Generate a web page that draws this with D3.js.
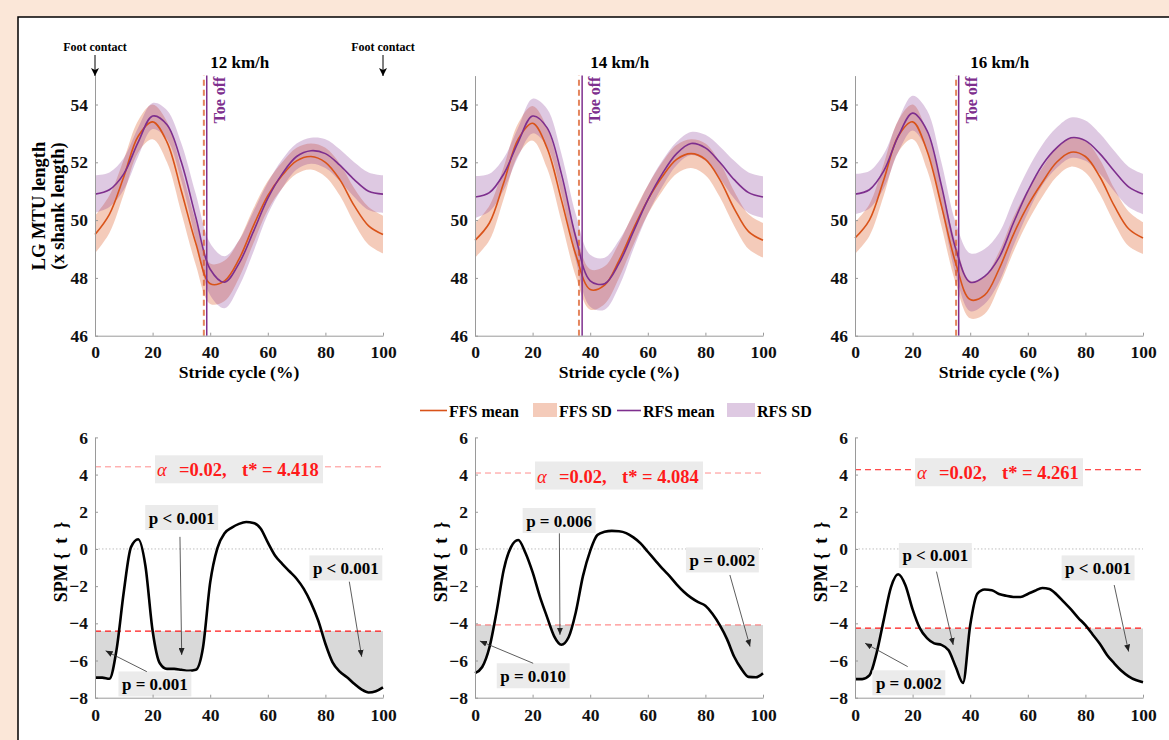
<!DOCTYPE html>
<html>
<head>
<meta charset="utf-8">
<script src="https://cdn.jsdelivr.net/npm/d3@7"></script>
<style>
body { margin: 0; background: #fbe7d8; }
svg { display: block; }
text { font-family: "Liberation Serif", "Times New Roman", serif; font-weight: bold; }
</style>
</head>
<body>
<script>
//stride cycle grids (%)
var xTop = d3.range(0, 101, 5);
var xSpm = d3.range(0, 100.1, 2.5);
var speeds = ["12 km/h", "14 km/h", "16 km/h"];

//LG MTU length (x shank length), mean and SD per speed
var ffsMean12 = [49.5, 50.2, 51.5, 52.9, 53.4, 52.7, 51.0, 49.2, 47.8, 47.9, 48.65, 49.8, 50.85, 51.55, 52.05, 52.2, 52.0, 51.4, 50.5, 49.8, 49.5];
var rfsMean12 = [50.9, 51.05, 51.6, 52.7, 53.6, 53.3, 52.0, 50.1, 48.3, 47.85, 48.5, 49.6, 50.75, 51.6, 52.2, 52.4, 52.3, 51.9, 51.4, 51.0, 50.9];
var ffsSd12 = [0.65, 0.65, 0.6, 0.55, 0.6, 0.7, 0.75, 0.75, 0.7, 0.7, 0.65, 0.6, 0.5, 0.45, 0.45, 0.45, 0.5, 0.55, 0.6, 0.65, 0.65];
var rfsSd12 = [0.65, 0.6, 0.55, 0.5, 0.45, 0.5, 0.65, 0.8, 0.9, 0.9, 0.8, 0.7, 0.55, 0.5, 0.45, 0.45, 0.5, 0.55, 0.6, 0.65, 0.65];

var ffsMean14 = [49.3, 49.9, 51.3, 52.8, 53.35, 52.5, 50.7, 48.8, 47.6, 47.75, 48.6, 49.7, 50.7, 51.5, 52.1, 52.3, 52.1, 51.4, 50.4, 49.6, 49.3];
var rfsMean14 = [50.8, 50.95, 51.6, 52.7, 53.6, 53.2, 51.6, 49.4, 47.9, 47.8, 48.5, 49.6, 50.7, 51.6, 52.3, 52.65, 52.5, 52.0, 51.4, 50.95, 50.8];
var ffsSd14 = [0.6, 0.6, 0.55, 0.55, 0.6, 0.7, 0.75, 0.75, 0.7, 0.65, 0.6, 0.55, 0.5, 0.5, 0.5, 0.5, 0.55, 0.6, 0.6, 0.6, 0.6];
var rfsSd14 = [0.72, 0.65, 0.55, 0.5, 0.6, 0.65, 0.7, 0.8, 0.9, 0.9, 0.8, 0.6, 0.5, 0.45, 0.4, 0.4, 0.45, 0.55, 0.65, 0.7, 0.72];

var ffsMean16 = [49.38, 50.0, 51.4, 52.9, 53.4, 52.4, 50.5, 48.5, 47.25, 47.4, 48.3, 49.5, 50.5, 51.3, 52.0, 52.35, 52.2, 51.5, 50.5, 49.7, 49.38];
var rfsMean16 = [50.9, 51.05, 51.7, 52.9, 53.7, 53.1, 51.2, 49.0, 47.85, 48.05, 48.7, 49.9, 51.0, 51.9, 52.5, 52.85, 52.75, 52.3, 51.7, 51.15, 50.9];
var ffsSd16 = [0.55, 0.55, 0.55, 0.55, 0.6, 0.65, 0.7, 0.7, 0.65, 0.65, 0.6, 0.6, 0.55, 0.5, 0.5, 0.5, 0.55, 0.6, 0.6, 0.6, 0.55];
var rfsSd16 = [0.7, 0.65, 0.6, 0.55, 0.6, 0.7, 0.8, 0.9, 1.0, 0.95, 0.85, 0.8, 0.75, 0.7, 0.7, 0.7, 0.7, 0.7, 0.7, 0.7, 0.7];

//toe off (% stride)
var toeOffFFS = [37.8, 36.1, 35.1];
var toeOffRFS = [38.8, 37.2, 36.0];

//SPM {t} curves and critical thresholds
var spm12 = [-6.92, -6.92, -6.98, -5.4, -2.3, 0.1, 0.52, -0.9, -4.4, -6.15, -6.45, -6.45, -6.5, -6.55, -6.5, -5.3, -1.8, 0.05, 0.85, 1.15, 1.35, 1.45, 1.4, 1.1, 0.35, -0.35, -0.8, -1.2, -1.6, -2.15, -2.9, -3.85, -5.1, -6.1, -6.6, -6.9, -7.25, -7.55, -7.72, -7.65, -7.44];
var spm14 = [-6.68, -6.35, -5.3, -3.37, -1.1, 0.1, 0.48, -0.2, -1.25, -2.55, -3.65, -4.7, -5.15, -4.75, -3.4, -1.45, -0.1, 0.75, 0.92, 0.97, 0.95, 0.85, 0.62, 0.3, -0.15, -0.6, -1.05, -1.45, -1.9, -2.3, -2.62, -2.86, -3.05, -3.5, -4.1, -4.85, -5.8, -6.45, -6.88, -6.9, -6.68];
var spm16 = [-7.0, -7.0, -6.8, -5.6, -3.8, -2.05, -1.36, -1.95, -3.25, -4.26, -4.8, -5.08, -5.16, -5.45, -6.35, -7.2, -4.1, -2.4, -2.18, -2.22, -2.42, -2.52, -2.58, -2.58, -2.42, -2.25, -2.1, -2.15, -2.45, -2.85, -3.25, -3.7, -4.1, -4.6, -5.1, -5.7, -6.15, -6.55, -6.85, -7.05, -7.17];
var tStar = [4.418, 4.084, 4.261];
var alphaLevel = "0.02";

//cluster p values
var pText12 = ["p < 0.001", "p < 0.001", "p = 0.001"];
var pText14 = ["p = 0.006", "p = 0.002", "p = 0.010"];
var pText16 = ["p < 0.001", "p < 0.001", "p = 0.002"];

//label placement in data units: [labelX, labelT, fromX, fromT, toX, toT]
var pPlace12 = [[30.1, 1.69, 29.5, 0.65, 30.1, -5.7], [87.1, -1.02, 88.3, -1.76, 92.6, -5.8], [20.8, -7.26, 18, -6.6, 3.7, -5.48]];
var pPlace14 = [[29.2, 1.53, 29.3, 0.84, 29.5, -4.62], [85.9, -0.59, 88.5, -1.4, 95.5, -5.25], [20.2, -6.82, 20.2, -6.15, 1.7, -4.95]];
var pPlace16 = [[27.9, -0.35, 28.3, -1.22, 34.1, -5.16], [84.4, -1.02, 90, -1.94, 95, -5.52], [18.7, -7.2, 18.3, -6.33, 3.5, -5.07]];

var topData = [
    {ffs: ffsMean12, rfs: rfsMean12, ffsSd: ffsSd12, rfsSd: rfsSd12},
    {ffs: ffsMean14, rfs: rfsMean14, ffsSd: ffsSd14, rfsSd: rfsSd14},
    {ffs: ffsMean16, rfs: rfsMean16, ffsSd: ffsSd16, rfsSd: rfsSd16}
];
var spmData = [spm12, spm14, spm16];
var pTexts = [pText12, pText14, pText16];
var pPlaces = [pPlace12, pPlace14, pPlace16];

var ffsColor = "#D95319",
    rfsColor = "#7E2F8E",
    axisColor = "#9a9a9a";

var width = 1169, height = 740;
var svg = d3.select("body").append("svg")
    .attr("width", width)
    .attr("height", height);

//white sheet with black edge
svg.append("rect")
    .attr("x", 18).attr("y", 17)
    .attr("width", width).attr("height", height)
    .attr("fill", "#fff")
    .attr("stroke", "#000")
    .attr("stroke-width", 1.5);

var defs = svg.append("defs");
defs.append("marker")
    .attr("id", "arrowThin")
    .attr("markerUnits", "userSpaceOnUse")
    .attr("markerWidth", 8).attr("markerHeight", 6)
    .attr("refX", 7).attr("refY", 3)
    .attr("orient", "auto")
    .append("path").attr("d", "M0,0L7,3L0,6Z").attr("fill", "#222");
defs.append("marker")
    .attr("id", "arrowBlack")
    .attr("markerUnits", "userSpaceOnUse")
    .attr("markerWidth", 8).attr("markerHeight", 8)
    .attr("refX", 8).attr("refY", 4)
    .attr("orient", "auto")
    .append("path").attr("d", "M0,0L8,4L0,8L2,4Z").attr("fill", "#000");

var panelLeft = [95, 475, 855],
    panelWidth = 288;
var yTop = d3.scaleLinear().domain([46, 55]).range([335.7, 75.6]);
var yBot = d3.scaleLinear().domain([-8, 6]).range([697.7, 437.4]);

function styleAxis(g) {
    g.select(".domain").attr("stroke", axisColor);
    g.selectAll(".tick line").attr("stroke", axisColor);
    g.selectAll(".tick text")
        .attr("fill", "#111")
        .style("font-size", "17.5px")
        .style("font-family", "'Liberation Serif', serif")
        .style("font-weight", "bold");
}

panelLeft.forEach(function (left, p) {
    var x = d3.scaleLinear().domain([0, 100]).range([left, left + panelWidth]);
    var d = topData[p];

    //---------- top row: MTU length ----------
    var top = svg.append("g").attr("class", "topPanel");

    var band = function (mean, sd) {
        return d3.area()
            .x(function (v, i) { return x(xTop[i]); })
            .y0(function (v, i) { return yTop(mean[i] - sd[i]); })
            .y1(function (v, i) { return yTop(mean[i] + sd[i]); })
            .curve(d3.curveCatmullRom)(mean);
    };
    var meanLine = d3.line()
        .x(function (v, i) { return x(xTop[i]); })
        .y(function (v) { return yTop(v); })
        .curve(d3.curveCatmullRom);

    top.append("path").attr("d", band(d.ffs, d.ffsSd))
        .attr("fill", ffsColor).attr("fill-opacity", 0.3);
    top.append("path").attr("d", band(d.rfs, d.rfsSd))
        .attr("fill", rfsColor).attr("fill-opacity", 0.26);
    top.append("path").attr("d", meanLine(d.ffs))
        .attr("fill", "none").attr("stroke", ffsColor).attr("stroke-width", 1.6);
    top.append("path").attr("d", meanLine(d.rfs))
        .attr("fill", "none").attr("stroke", rfsColor).attr("stroke-width", 1.6);

    //toe off markers
    top.append("line")
        .attr("x1", x(toeOffFFS[p])).attr("x2", x(toeOffFFS[p]))
        .attr("y1", yTop(46)).attr("y2", yTop(55))
        .attr("stroke", ffsColor).attr("stroke-opacity", 0.7)
        .attr("stroke-width", 2).attr("stroke-dasharray", "6,4");
    top.append("line")
        .attr("x1", x(toeOffRFS[p])).attr("x2", x(toeOffRFS[p]))
        .attr("y1", yTop(46)).attr("y2", yTop(55))
        .attr("stroke", rfsColor).attr("stroke-width", 1.5);
    top.append("text")
        .attr("transform", "translate(" + (x(toeOffRFS[p]) + 18) + "," + (yTop(55) + 1) + ") rotate(-90)")
        .attr("text-anchor", "end")
        .attr("fill", rfsColor)
        .style("font-size", "16px")
        .text("Toe off");

    top.append("g")
        .attr("transform", "translate(0," + yTop(46) + ")")
        .call(d3.axisBottom(x).tickValues([0, 20, 40, 60, 80, 100]).tickSizeInner(-3).tickSizeOuter(0).tickPadding(10))
        .call(styleAxis);
    top.append("g")
        .attr("transform", "translate(" + left + ",0)")
        .call(d3.axisLeft(yTop).tickValues([46, 48, 50, 52, 54]).tickSizeInner(-3).tickSizeOuter(0).tickPadding(7))
        .call(styleAxis);

    top.append("text")
        .attr("x", x(40)).attr("y", 68)
        .style("font-size", "17px")
        .text(speeds[p]);
    top.append("text")
        .attr("x", x(50)).attr("y", 378)
        .attr("text-anchor", "middle")
        .style("font-size", "17.5px")
        .text("Stride cycle (%)");

    //---------- bottom row: SPM ----------
    var bot = svg.append("g").attr("class", "spmPanel");
    var t = spmData[p];
    var ts = tStar[p];

    var clipId = "clipSig" + p;
    defs.append("clipPath").attr("id", clipId)
        .append("rect")
        .attr("x", x(0)).attr("width", panelWidth)
        .attr("y", yBot(-ts)).attr("height", yBot(-8) - yBot(-ts));

    bot.append("path")
        .attr("clip-path", "url(#" + clipId + ")")
        .attr("d", d3.area()
            .x(function (v, i) { return x(xSpm[i]); })
            .y0(yBot(-ts))
            .y1(function (v) { return yBot(v); })
            .curve(d3.curveMonotoneX)(t))
        .attr("fill", "#d9d9d9");

    //zero line
    bot.append("line")
        .attr("x1", x(0)).attr("x2", x(100))
        .attr("y1", yBot(0)).attr("y2", yBot(0))
        .attr("stroke", "#b0b0b0").attr("stroke-width", 0.8)
        .attr("stroke-dasharray", "1.5,2");

    //threshold lines
    var upperOp = [0.45, 0.45, 0.9][p],
        lowerOp = [0.9, 0.45, 0.9][p];
    [ts, -ts].forEach(function (v, k) {
        bot.append("line")
            .attr("x1", x(0)).attr("x2", x(100))
            .attr("y1", yBot(v)).attr("y2", yBot(v))
            .attr("stroke", "#ff0000")
            .attr("stroke-opacity", k == 0 ? upperOp : lowerOp)
            .attr("stroke-width", k == 0 ? 1 : 1.2)
            .attr("stroke-dasharray", "6,4");
    });

    bot.append("path")
        .attr("d", d3.line()
            .x(function (v, i) { return x(xSpm[i]); })
            .y(function (v) { return yBot(v); })
            .curve(d3.curveMonotoneX)(t))
        .attr("fill", "none").attr("stroke", "#000").attr("stroke-width", 2.6);

    //alpha / critical t box
    var boxY = yBot(ts) + 2.5;
    bot.append("rect")
        .attr("x", left + 60).attr("y", boxY - 14)
        .attr("width", 168).attr("height", 28)
        .attr("fill", "#ebebeb");
    bot.append("text")
        .attr("x", left + 62).attr("y", boxY + 7)
        .attr("fill", "#ff1a1a")
        .style("font-size", "18.5px")
        .style("font-style", "italic")
        .style("font-weight", "normal")
        .text("\u03b1");
    bot.append("text")
        .attr("x", left + 84).attr("y", boxY + 7)
        .attr("fill", "#ff1a1a")
        .style("font-size", "18.5px")
        .text("=" + alphaLevel + ",");
    bot.append("text")
        .attr("x", left + 147).attr("y", boxY + 7)
        .attr("fill", "#ff1a1a")
        .style("font-size", "18.5px")
        .text("t* = " + ts.toFixed(3));

    //p value annotations
    pTexts[p].forEach(function (label, k) {
        var pl = pPlaces[p][k];
        var g = bot.append("g");
        var rect = g.append("rect").attr("fill", "#ebebeb");
        var tx = g.append("text")
            .attr("x", x(pl[0])).attr("y", yBot(pl[1]) + 6)
            .attr("text-anchor", "middle")
            .style("font-size", "17px")
            .text(label);
        var bb = tx.node().getBBox();
        rect.attr("x", bb.x - 3.5).attr("width", bb.width + 7)
            .attr("y", yBot(pl[1]) - 12.5).attr("height", 25);
        bot.append("line")
            .attr("x1", x(pl[2])).attr("y1", yBot(pl[3]))
            .attr("x2", x(pl[4])).attr("y2", yBot(pl[5]))
            .attr("stroke", "#333").attr("stroke-width", 0.8)
            .attr("marker-end", "url(#arrowThin)");
    });

    bot.append("g")
        .attr("transform", "translate(0," + yBot(-8) + ")")
        .call(d3.axisBottom(x).tickValues([0, 20, 40, 60, 80, 100]).tickSizeInner(-3).tickSizeOuter(0).tickPadding(11))
        .call(styleAxis);
    bot.append("g")
        .attr("transform", "translate(" + left + ",0)")
        .call(d3.axisLeft(yBot).tickValues(d3.range(-8, 7, 2)).tickSizeInner(-3).tickSizeOuter(0).tickPadding(7))
        .call(styleAxis);
    bot.append("text")
        .attr("transform", "translate(" + (left - 28) + "," + 562 + ") rotate(-90)")
        .attr("text-anchor", "middle")
        .style("font-size", "18px")
        .style("white-space", "pre")
        .text("SPM {  t  }");
});

//y label of first top panel
svg.append("text")
    .attr("transform", "translate(45,206) rotate(-90)")
    .attr("text-anchor", "middle")
    .style("font-size", "18.5px")
    .text("LG MTU length");
svg.append("text")
    .attr("transform", "translate(64,206) rotate(-90)")
    .attr("text-anchor", "middle")
    .style("font-size", "18.5px")
    .text("(x shank length)");

//foot contact arrows
var xFirst = d3.scaleLinear().domain([0, 100]).range([panelLeft[0], panelLeft[0] + panelWidth]);
[0, 100].forEach(function (v) {
    svg.append("text")
        .attr("x", xFirst(v)).attr("y", 51)
        .attr("text-anchor", "middle")
        .style("font-size", "12px")
        .text("Foot contact");
    svg.append("line")
        .attr("x1", xFirst(v)).attr("x2", xFirst(v))
        .attr("y1", 55).attr("y2", 76)
        .attr("stroke", "#000").attr("stroke-width", 1)
        .attr("marker-end", "url(#arrowBlack)");
});

//legend
var legend = svg.append("g").attr("class", "legend");
var legendY = 416.5;
legend.append("line").attr("x1", 420).attr("x2", 447).attr("y1", 410.5).attr("y2", 410.5)
    .attr("stroke", ffsColor).attr("stroke-width", 1.6);
legend.append("text").attr("x", 449).attr("y", legendY).style("font-size", "16px").text("FFS mean");
legend.append("rect").attr("x", 533).attr("y", 403).attr("width", 24).attr("height", 14)
    .attr("fill", ffsColor).attr("fill-opacity", 0.3);
legend.append("text").attr("x", 559).attr("y", legendY).style("font-size", "16px").text("FFS SD");
legend.append("line").attr("x1", 617).attr("x2", 641).attr("y1", 410.5).attr("y2", 410.5)
    .attr("stroke", rfsColor).attr("stroke-width", 1.6);
legend.append("text").attr("x", 643).attr("y", legendY).style("font-size", "16px").text("RFS mean");
legend.append("rect").attr("x", 727).attr("y", 403).attr("width", 28).attr("height", 14)
    .attr("fill", rfsColor).attr("fill-opacity", 0.26);
legend.append("text").attr("x", 757).attr("y", legendY).style("font-size", "16px").text("RFS SD");
</script>
</body>
</html>
